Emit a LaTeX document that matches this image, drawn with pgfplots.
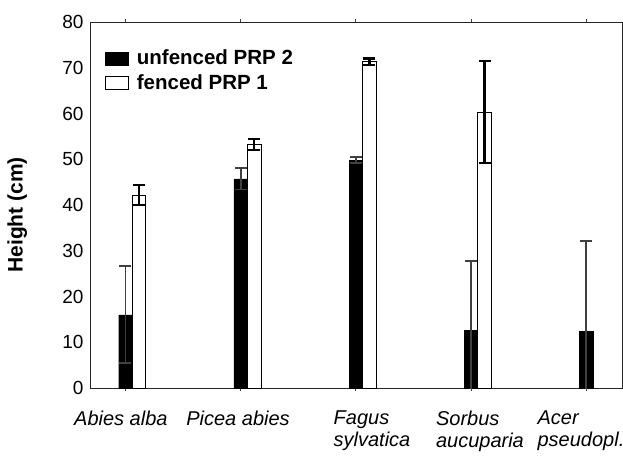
\documentclass[border=0pt]{standalone}
\usepackage{fontspec}
\setmainfont{Liberation Sans}
\usepackage{pgfplots}
\pgfplotsset{compat=1.18}
\definecolor{errgray}{HTML}{404040}
\pgfplotsset{
  graybars/.style={/pgfplots/error bars/draw error bar/.code 2 args={%
    \draw[errgray, line width=1.8bp] ##1 -- ##2;
    \draw[errgray, line width=1.8bp] ##2 ++(-6bp,0) -- ++(12bp,0);}},
  blackbars/.style={/pgfplots/error bars/draw error bar/.code 2 args={%
    \draw[black, line width=2.4bp] ##1 -- ##2;
    \draw[black, line width=2.2bp] ##2 ++(-6bp,0) -- ++(12bp,0);}},
}
\begin{document}
\fontsize{19bp}{22bp}\selectfont
\begin{tikzpicture}
\useasboundingbox (-90bp,-69bp) rectangle (533bp,388bp);
\begin{axis}[
  at={(0,0)}, anchor=south west,
  scale only axis, width=532bp, height=366bp,
  ybar, bar width=0.117,
  xmin=-0.308, xmax=4.31, ymin=0, ymax=80,
  ytick={0,10,...,80},
  xtick={-0.04,0.977,2.14,3.077,3.954},
  xticklabels={Abies alba,Picea abies,{Fagus\\sylvatica},{Sorbus\\aucuparia},{Acer\\pseudopl.}},
  xticklabel style={font=\fontsize{20bp}{22bp}\selectfont\itshape, align=left, yshift=-16bp},
  major tick length=0pt,
  extra x ticks={0,1,2,3,4},
  extra x tick labels={},
  extra x tick style={major tick length=3bp, tick align=outside, tick style={draw=errgray, line width=1bp}},
  /pgf/number format/assume math mode=true,
  axis line style={black!85, line width=0.8bp},
  ylabel={Height (cm)},
  ylabel style={at={(axis description cs:-0.137,0.473)}, anchor=center, font=\fontsize{21bp}{24bp}\selectfont\bfseries},
  legend style={at={(rel axis cs:0.028,0.93)}, anchor=north west, draw=none, fill=none,
    font=\fontsize{20.5bp}{24bp}\selectfont\bfseries, inner sep=0pt, row sep=3bp, legend cell align=left,
    /tikz/every odd column/.append style={column sep=6bp}},
  legend cell align=left,
]
\addplot[fill=black, draw=black, bar shift=0pt, graybars,
  legend image code/.code={\draw[fill=black,draw=black] (0bp,-6.5bp) rectangle (23bp,6.5bp);},
  error bars/.cd, y dir=both, y explicit]
  coordinates {
  (0,16.0) +- (0,10.6)
  (1,45.7) +- (0,2.3)
  (2,49.8) +- (0,0.7)
  (3,12.6) +- (0,15.2)
  (4,12.4) +- (0,19.8)
  };
\addplot[fill=white, draw=black, line width=0.8bp, bar shift=0pt, blackbars,
  legend image code/.code={\draw[fill=white,draw=black,line width=0.8bp] (0bp,-6.5bp) rectangle (23bp,6.5bp);},
  error bars/.cd, y dir=both, y explicit]
  coordinates {
  (0.117,42.2) +- (0,2.2)
  (1.117,53.3) +- (0,1.2)
  (2.117,71.3) +- (0,0.7)
  (3.117,60.3) +- (0,11.2)
  };
\legend{unfenced PRP 2,fenced PRP 1}
\end{axis}
\end{tikzpicture}
\end{document}
